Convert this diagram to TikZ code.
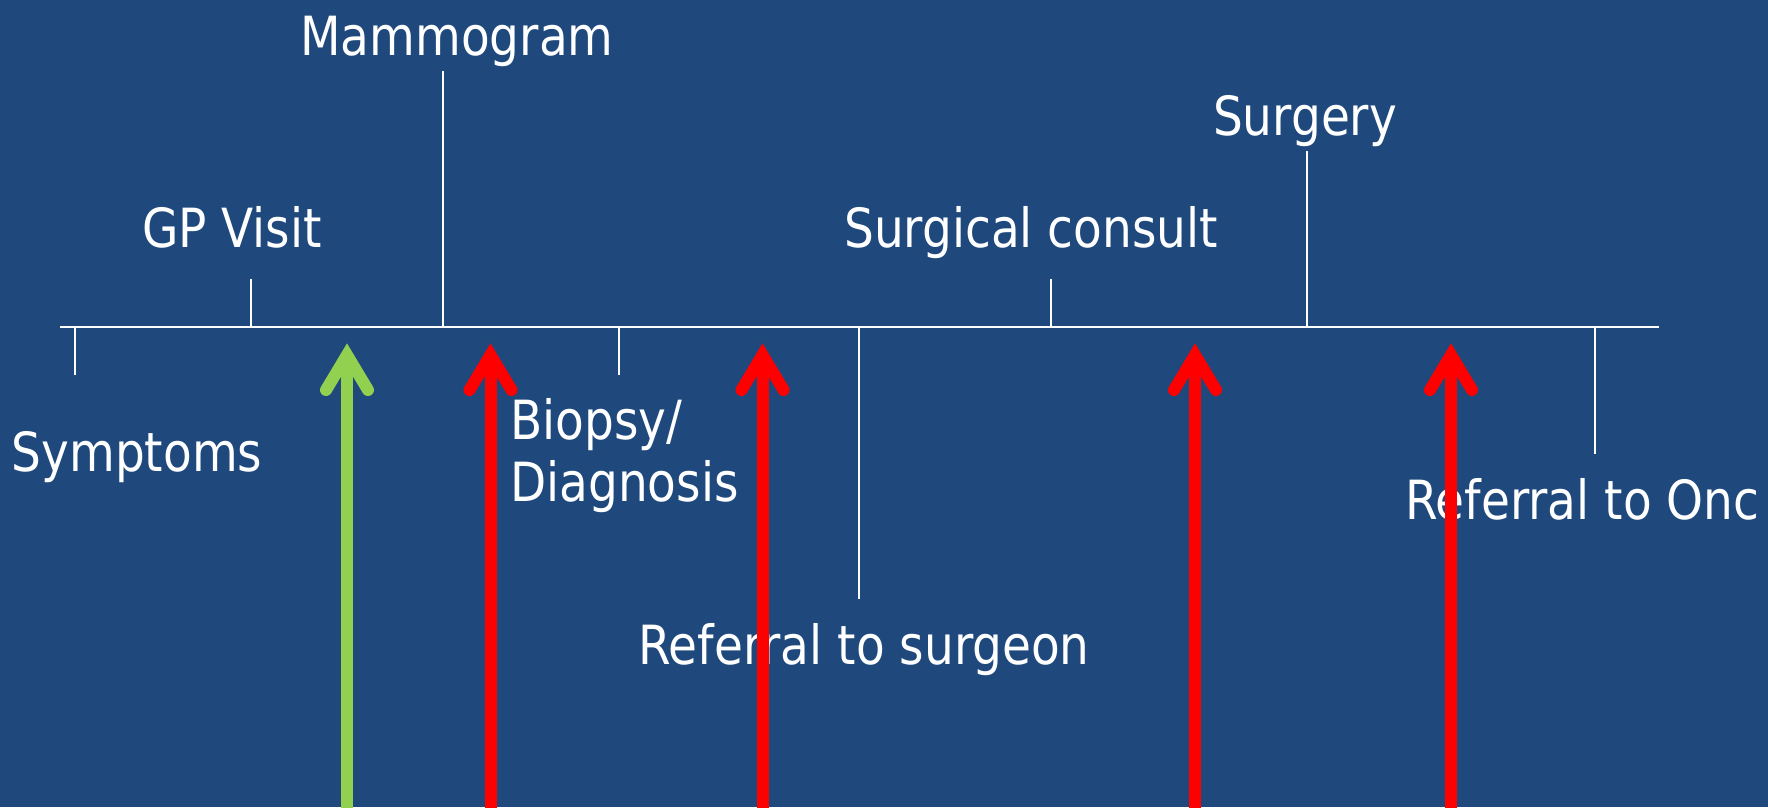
\documentclass[tikz,border=0pt]{standalone}
\usepackage{fontspec}
\setmainfont[FakeStretch=0.87]{DejaVu Sans}
\usetikzlibrary{calc}
\definecolor{bgblue}{HTML}{1F497D}
\definecolor{arrred}{HTML}{FF0000}
\definecolor{arrgreen}{HTML}{92D050}
\begin{document}
\begin{tikzpicture}[x=1pt,y=-1pt,
  lbl/.style={text=white,inner sep=0pt,font=\fontsize{54}{62}\selectfont},
  tick/.style={draw=white,line width=2pt},
  shaftline/.style={line width=12pt,line cap=butt},
  headline/.style={line width=12pt,line cap=round,line join=miter}]
\fill[bgblue] (0,0) rectangle (1768,807);
\useasboundingbox (0,0) rectangle (1768,807);

% timeline
\coordinate (tl0) at (60,327);
\coordinate (tl1) at (1659,327);
\draw[tick] (tl0) -- (tl1);

% tick marks
\coordinate (tSymA) at (75,327);   \coordinate (tSymB) at (75,375);
\coordinate (tGpA) at (250.5,327); \coordinate (tGpB) at (250.5,279);
\coordinate (tMamA) at (443,327);  \coordinate (tMamB) at (443,71);
\coordinate (tBioA) at (619,327);  \coordinate (tBioB) at (619,375);
\coordinate (tRsA) at (859,327);   \coordinate (tRsB) at (859,599);
\coordinate (tScA) at (1051,327);  \coordinate (tScB) at (1051,279);
\coordinate (tSuA) at (1307,327);  \coordinate (tSuB) at (1307,151);
\coordinate (tRoA) at (1595,327);  \coordinate (tRoB) at (1595,454);
\foreach \a/\b in {tSymA/tSymB,tGpA/tGpB,tMamA/tMamB,tBioA/tBioB,tRsA/tRsB,tScA/tScB,tSuA/tSuB,tRoA/tRoB}
  \draw[tick] (\a) -- (\b);

% labels
\node[lbl,anchor=base] (mammo) at (457,55) {Mammogram};
\node[lbl,anchor=base] (gp) at (232,247) {GP Visit};
\node[lbl,anchor=base] (surgery) at (1305,135) {Surgery};
\node[lbl,anchor=base] (consult) at (1031,247) {Surgical consult};
\node[lbl,anchor=base] (symptoms) at (137,471) {Symptoms};
\node[lbl,anchor=base west] (biopsy) at (510,439) {Biopsy/};
\node[lbl,anchor=base west] (diag) at (510,501) {Diagnosis};
\node[lbl,anchor=base west] (refsurg) at (638,664) {Referral to surgeon};
\node[lbl,anchor=base west] (refonc) at (1405,519) {Referral to Onc};

% arrows (vertex of head, bottom of shaft)
\foreach \n/\x/\c in {ag/347/arrgreen,ar1/490.5/arrred,ar2/762.5/arrred,ar3/1195/arrred,ar4/1451/arrred}{
  \coordinate (\n) at (\x,355);
  \coordinate (\n b) at (\x,812);
  \draw[shaftline,draw=\c] (\n b) -- (\n);
  \draw[headline,draw=\c] ($(\n)+(-21,35)$) -- (\n) -- ($(\n)+(21,35)$);
}
\end{tikzpicture}
\end{document}
